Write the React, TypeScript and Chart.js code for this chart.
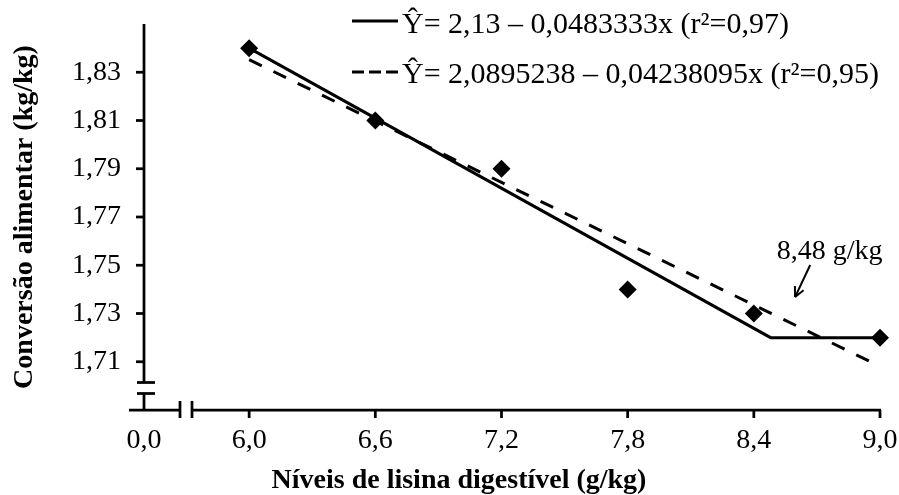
import React, { useEffect, useRef } from "react";
import { Chart, registerables } from "chart.js";

Chart.register(...registerables);

// ---- data ----
const levels = [6.0, 6.6, 7.2, 7.8, 8.4, 9.0];
const feedConversion = [1.84, 1.81, 1.79, 1.74, 1.73, 1.72];

// linear-plateau fit (solid)
const plateauX = [6.0, 8.48, 9.0];
const plateauY = [1.84, 1.72, 1.72];

// linear fit (dashed)
const linearX = [6.0, 9.0];
const linearY = [1.8352, 1.7081];

const xTickValues = [5.5, 6.0, 6.6, 7.2, 7.8, 8.4, 9.0];
const xTickLabels = ["0,0", "6,0", "6,6", "7,2", "7,8", "8,4", "9,0"];
const yTickValues = [1.71, 1.73, 1.75, 1.77, 1.79, 1.81, 1.83];
const yTickLabels = ["1,71", "1,73", "1,75", "1,77", "1,79", "1,81", "1,83"];

const legendLabels = [
  "\u0176= 2,13 \u2013 0,0483333x (r\u00b2=0,97)",
  "\u0176= 2,0895238 \u2013 0,04238095x (r\u00b2=0,95)",
];
const xTitle = "Níveis de lisina digestível (g/kg)";
const yTitle = "Conversão alimentar (kg/kg)";

const breakpointLabel = "8,48 g/kg";
const breakpointLabelAt = [8.76, 1.7555];
const breakpointArrowFrom = [8.668, 1.7501];
const breakpointArrowTo = [8.596, 1.7368];

const FONT = '"Liberation Serif", "Times New Roman", serif';
const DASH = [14, 13];

const decorPlugin = {
  id: "decor",
  afterDraw(chart: any) {
    const ctx: CanvasRenderingContext2D = chart.ctx;
    const xs = chart.scales.x;
    const ys = chart.scales.y;
    const left = xs.getPixelForValue(xTickValues[0]);
    const right = xs.right;
    const top = ys.top;
    const bottom = ys.bottom;
    const line = (x1: number, y1: number, x2: number, y2: number) => {
      ctx.beginPath();
      ctx.moveTo(x1, y1);
      ctx.lineTo(x2, y2);
      ctx.stroke();
    };
    ctx.save();
    ctx.strokeStyle = "#000";
    ctx.fillStyle = "#000";
    ctx.lineWidth = 2.75;
    ctx.lineCap = "butt";
    ctx.setLineDash([]);

    // y axis with break
    line(left, top, left, bottom - 27.5);
    line(left, bottom - 16.5, left, bottom);
    line(left - 7, bottom - 27.5, left + 11, bottom - 27.5);
    line(left - 7, bottom - 16.5, left + 11, bottom - 16.5);

    // x axis with break
    line(left - 15, bottom, left + 36, bottom);
    line(left + 48, bottom, right + 1, bottom);
    line(left + 36, bottom - 9, left + 36, bottom + 8);
    line(left + 48, bottom - 9, left + 48, bottom + 8);

    // ticks
    yTickValues.forEach((v) => {
      const y = ys.getPixelForValue(v);
      line(left - 8, y, left, y);
    });
    xTickValues.slice(1).forEach((v) => {
      const x = xs.getPixelForValue(v);
      line(x, bottom, x, bottom + 8);
    });

    // x title
    ctx.font = `bold 28px ${FONT}`;
    ctx.textAlign = "center";
    ctx.textBaseline = "alphabetic";
    ctx.fillText(xTitle, 459, 488);

    // legend
    ctx.font = `30px ${FONT}`;
    ctx.textAlign = "left";
    ctx.textBaseline = "middle";
    ctx.lineWidth = 3;
    const rows = [
      { lineY: 21, textY: 25, dash: [] as number[] },
      { lineY: 72, textY: 75, dash: [12, 5] },
    ];
    rows.forEach((r, i) => {
      ctx.setLineDash(r.dash);
      line(352, r.lineY, 398, r.lineY);
      ctx.setLineDash([]);
      ctx.fillText(legendLabels[i], 402, r.textY);
    });

    // breakpoint annotation
    ctx.font = `28px ${FONT}`;
    ctx.textAlign = "center";
    ctx.fillText(
      breakpointLabel,
      xs.getPixelForValue(breakpointLabelAt[0]),
      ys.getPixelForValue(breakpointLabelAt[1])
    );
    const ax1 = xs.getPixelForValue(breakpointArrowFrom[0]);
    const ay1 = ys.getPixelForValue(breakpointArrowFrom[1]);
    const ax2 = xs.getPixelForValue(breakpointArrowTo[0]);
    const ay2 = ys.getPixelForValue(breakpointArrowTo[1]);
    ctx.lineWidth = 2;
    line(ax1, ay1, ax2, ay2);
    const ang = Math.atan2(ay1 - ay2, ax1 - ax2);
    const headLen = 11;
    [0.45, -0.45].forEach((d) => {
      line(ax2, ay2, ax2 + headLen * Math.cos(ang + d), ay2 + headLen * Math.sin(ang + d));
    });
    ctx.restore();
  },
};

export default function App() {
  const ref = useRef<HTMLCanvasElement>(null);
  useEffect(() => {
    document.body.style.margin = "0";
    Chart.defaults.font.family = FONT;
    Chart.defaults.color = "#000";
    const chart = new Chart(ref.current as HTMLCanvasElement, {
      type: "scatter",
      data: {
        datasets: [
          {
            label: "observed",
            data: levels.map((x, i) => ({ x, y: feedConversion[i] })),
            pointStyle: "rectRot",
            pointRadius: 9,
            pointBackgroundColor: "#000",
            pointBorderColor: "#000",
            pointBorderWidth: 0,
            showLine: false,
            clip: false,
          } as any,
          {
            label: "plateau",
            data: plateauX.map((x, i) => ({ x, y: plateauY[i] })),
            showLine: true,
            borderColor: "#000",
            borderWidth: 3,
            pointRadius: 0,
            fill: false,
            tension: 0,
            clip: false,
          } as any,
          {
            label: "linear",
            data: linearX.map((x, i) => ({ x, y: linearY[i] })),
            showLine: true,
            borderColor: "#000",
            borderWidth: 3,
            borderDash: DASH,
            borderCapStyle: "butt",
            pointRadius: 0,
            fill: false,
            tension: 0,
            clip: false,
          } as any,
        ],
      },
      options: {
        animation: false,
        responsive: false,
        layout: { padding: { top: 24, right: 19, left: 0, bottom: 0 } },
        plugins: {
          legend: { display: false },
          tooltip: { enabled: false },
        },
        scales: {
          x: {
            type: "linear",
            min: 5.5,
            max: 9.0,
            grid: { display: false, drawTicks: false },
            border: { display: false },
            afterBuildTicks: (axis: any) => {
              axis.ticks = xTickValues.map((v) => ({ value: v }));
            },
            afterFit: (s: any) => {
              s.height = 85;
              s.paddingLeft = 0;
              s.paddingRight = 0;
            },
            ticks: {
              autoSkip: false,
              maxRotation: 0,
              minRotation: 0,
              padding: 14,
              color: "#000",
              font: { family: FONT, size: 28 },
              callback: (_v: any, i: number) => xTickLabels[i],
            },
          },
          y: {
            type: "linear",
            min: 1.69,
            max: 1.85,
            grid: { display: false, drawTicks: false },
            border: { display: false },
            afterBuildTicks: (axis: any) => {
              axis.ticks = yTickValues.map((v) => ({ value: v }));
            },
            afterFit: (s: any) => {
              s.width = 144;
              s.paddingTop = 0;
              s.paddingBottom = 0;
            },
            ticks: {
              autoSkip: false,
              padding: 23,
              color: "#000",
              font: { family: FONT, size: 28 },
              callback: (_v: any, i: number) => yTickLabels[i],
            },
            title: {
              display: true,
              text: yTitle,
              color: "#000",
              font: { family: FONT, size: 28, weight: "bold" },
              padding: { top: 8, bottom: 0 },
            },
          },
        },
      } as any,
      plugins: [decorPlugin],
    });
    return () => chart.destroy();
  }, []);
  return (
    <div style={{ width: 899, height: 495 }}>
      <canvas ref={ref} width={899} height={495} style={{ display: "block" }} />
    </div>
  );
}
